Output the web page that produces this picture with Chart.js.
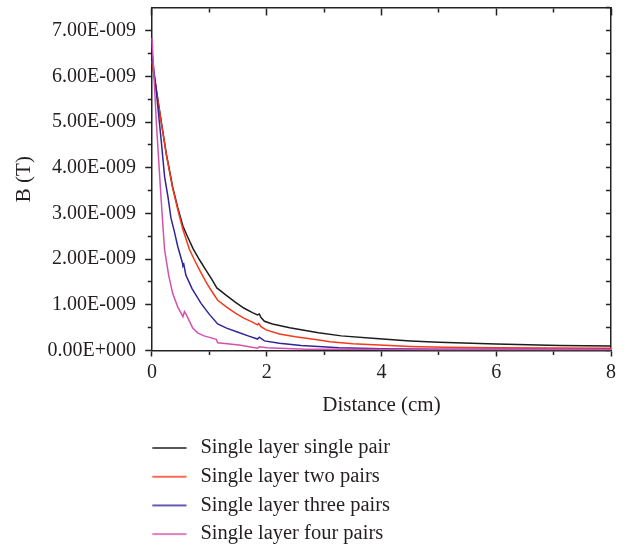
<!DOCTYPE html>
<html><head><meta charset="utf-8">
<script src="https://cdn.jsdelivr.net/npm/chart.js@4.4.1/dist/chart.umd.min.js"></script>
<style>html,body{margin:0;padding:0;background:#fff;}canvas{display:block;}</style>
</head><body>
<canvas id="c" width="626" height="552"></canvas>
<script>
// ---- data (B values in units of 1E-009 T, distance in cm) ----
const seriesNames = ['Single layer single pair', 'Single layer two pairs', 'Single layer three pairs', 'Single layer four pairs'];
const seriesColors = ['#1c1c1c', '#f5391c', '#2f2595', '#d452ae'];

const distSinglePair = [0, 0.07, 0.16, 0.25, 0.36, 0.45, 0.54, 0.62, 0.72, 0.83, 0.94, 1.04, 1.13, 1.29, 1.45, 1.6, 1.75, 1.84, 1.87, 1.9, 1.96, 2.1, 2.4, 2.9, 3.3, 3.9, 4.5, 5.0, 6.0, 7.1, 8.0, 8.3];
const bSinglePair = [6.30, 5.75, 5.02, 4.30, 3.58, 3.12, 2.72, 2.49, 2.22, 1.98, 1.76, 1.56, 1.37, 1.21, 1.06, 0.93, 0.83, 0.78, 0.80, 0.72, 0.64, 0.58, 0.50, 0.39, 0.32, 0.26, 0.21, 0.18, 0.14, 0.11, 0.10, 0.10];

const distTwoPairs = [0, 0.07, 0.16, 0.25, 0.36, 0.45, 0.54, 0.65, 0.74, 0.83, 0.95, 1.05, 1.145, 1.3, 1.46, 1.6, 1.75, 1.84, 1.86, 1.9, 1.99, 2.22, 2.5, 2.91, 3.1, 3.5, 3.96, 4.5, 5.1, 6.0, 7.0, 8.0, 8.3];
const bTwoPairs = [6.33, 5.74, 5.00, 4.28, 3.55, 3.08, 2.64, 2.22, 1.98, 1.76, 1.48, 1.28, 1.10, 0.95, 0.81, 0.71, 0.62, 0.56, 0.59, 0.52, 0.45, 0.36, 0.30, 0.23, 0.19, 0.15, 0.12, 0.09, 0.07, 0.06, 0.055, 0.05, 0.05];

const distThreePairs = [0, 0.07, 0.16, 0.22, 0.28, 0.33, 0.39, 0.45, 0.53, 0.54, 0.555, 0.59, 0.7, 0.855, 1.0, 1.145, 1.3, 1.5, 1.7, 1.84, 1.87, 1.96, 2.22, 2.6, 3.26, 4.0, 5.0, 6.5, 8.0, 8.3];
const bThreePairs = [6.47, 5.74, 4.60, 3.80, 3.35, 2.90, 2.60, 2.27, 1.92, 1.85, 1.88, 1.65, 1.35, 1.03, 0.79, 0.58, 0.49, 0.40, 0.31, 0.25, 0.29, 0.21, 0.16, 0.11, 0.06, 0.04, 0.03, 0.025, 0.02, 0.02];

const distFourPairs = [0, 0.08, 0.16, 0.2, 0.22, 0.29, 0.36, 0.45, 0.54, 0.565, 0.6, 0.71, 0.8, 0.91, 1.12, 1.145, 1.52, 1.84, 1.87, 2.0, 2.22, 2.68, 3.5, 5.0, 6.5, 8.0, 8.3];
const bFourPairs = [6.84, 4.90, 3.30, 2.55, 2.20, 1.65, 1.25, 0.95, 0.74, 0.85, 0.78, 0.49, 0.38, 0.32, 0.245, 0.17, 0.12, 0.05, 0.08, 0.06, 0.05, 0.03, 0.025, 0.02, 0.02, 0.02, 0.02];

const yTickLabels = ['0.00E+000', '1.00E-009', '2.00E-009', '3.00E-009', '4.00E-009', '5.00E-009', '6.00E-009', '7.00E-009'];
const xTickLabels = ['0', '2', '4', '6', '8'];
const xTitle = 'Distance (cm)';
const yTitle = 'B (T)';

// ---- build chart ----
const UNIT = 1e-9;
const FONT = 'Liberation Serif';
const TXT = '#231f20';
const AX = '#222';
const CLEAR = 'rgba(0,0,0,0)';
const X_MAX = 8, Y_MAX = 7.5 * UNIT;

const allDist = [distSinglePair, distTwoPairs, distThreePairs, distFourPairs];
const allB = [bSinglePair, bTwoPairs, bThreePairs, bFourPairs];

// legend marker: short line sample (drawn by the legend as a point-style image)
function legendLine(color) {
  const c = document.createElement('canvas');
  c.width = 46; c.height = 4;
  const g = c.getContext('2d');
  g.strokeStyle = color; g.lineWidth = 1.5;
  g.beginPath(); g.moveTo(0.3, 2); g.lineTo(34.3, 2); g.stroke();
  return c;
}

const datasets = seriesNames.map((name, i) => ({
  label: name,
  data: allDist[i].map((d, k) => ({x: d, y: allB[i][k] * UNIT})),
  borderColor: seriesColors[i],
  backgroundColor: seriesColors[i],
  borderWidth: 1.5,
  pointRadius: 0,
  pointStyle: legendLine(seriesColors[i]),
  tension: 0,
  clip: false,
  order: 4 - i
}));

const halfIndex = (v) => Math.round(v / UNIT * 2);   // index of 0.5E-009 step
const isMajorY = (v) => halfIndex(v) % 2 === 0;
const isMajorX = (v) => Math.round(v) % 2 === 0;

new Chart(document.getElementById('c'), {
  type: 'line',
  data: {datasets},
  options: {
    responsive: false,
    animation: false,
    devicePixelRatio: 1,
    layout: {padding: {left: 11.4, top: 7.75, right: 15, bottom: -2.35}},
    plugins: {
      tooltip: {enabled: false},
      legend: {
        position: 'bottom', align: 'start', fullSize: false,
        labels: {
          usePointStyle: true, pointStyleWidth: 30,
          padding: 8.2, color: TXT, font: {family: FONT, size: 20.5},
          sort: (a, b) => a.datasetIndex - b.datasetIndex
        }
      }
    },
    scales: {
      x: {
        type: 'linear', position: 'bottom', min: 0, max: X_MAX,
        ticks: {stepSize: 1, padding: 4.5, color: TXT, font: {family: FONT, size: 20},
          autoSkip: false, maxRotation: 0,
          callback: (v) => isMajorX(v) ? xTickLabels[Math.round(v / 2)] : ''},
        grid: {drawOnChartArea: false, tickLength: 6, tickColor: AX, tickWidth: 1.5,
          tickBorderDash: (c) => isMajorX(c.tick.value) ? [] : [3.5, 100]},
        border: {display: true, color: AX, width: 1.5},
        title: {display: true, text: xTitle, color: TXT, font: {family: FONT, size: 21}, padding: {top: 2.9, bottom: 11.95}}
      },
      y: {
        type: 'linear', position: 'left', min: 0, max: Y_MAX,
        ticks: {stepSize: 0.5 * UNIT, padding: 0, color: TXT, autoSkip: false,
          font: {family: FONT, size: 20, lineHeight: 0.7},
          callback: (v) => isMajorY(v) ? yTickLabels[halfIndex(v) / 2] : ''},
        grid: {drawOnChartArea: false, tickLength: 16, tickWidth: 1.5,
          tickColor: (c) => halfIndex(c.tick.value) >= 15 ? CLEAR : AX,
          tickBorderDash: (c) => isMajorY(c.tick.value) ? [0, 9.25, 6, 100] : [0, 11.75, 3.5, 100]},
        border: {display: true, color: AX, width: 1.5},
        title: {display: true, text: yTitle, color: TXT, font: {family: FONT, size: 21}, padding: {top: 0, bottom: 10.9}}
      },
      yRight: {
        type: 'linear', axis: 'y', position: {x: X_MAX}, min: 0, max: Y_MAX,
        ticks: {display: false, stepSize: 0.5 * UNIT},
        grid: {drawOnChartArea: false, tickLength: 4, tickColor: AX, tickWidth: 1.5},
        border: {display: true, color: AX, width: 1.5}
      },
      xTop: {
        type: 'linear', axis: 'x', position: {y: Y_MAX}, min: 0, max: X_MAX,
        ticks: {display: false, stepSize: 1},
        grid: {drawOnChartArea: false, tickLength: 7, tickColor: AX, tickWidth: 1.5,
          tickBorderDash: (c) => isMajorX(c.tick.value) ? [] : [4, 100]},
        border: {display: true, color: AX, width: 1.5}
      }
    }
  }
});
</script>
</body></html>
